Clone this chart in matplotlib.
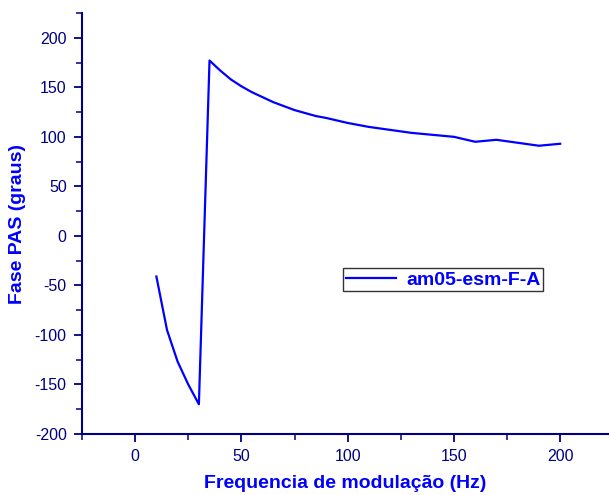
import matplotlib
matplotlib.use("Agg")
import matplotlib.pyplot as plt
from matplotlib.ticker import MultipleLocator

plt.rcParams['font.family'] = ['Liberation Sans', 'DejaVu Sans']
plt.rcParams['axes.unicode_minus'] = False

# Fase PAS em função da frequência de modulação
freq = [10, 15, 20, 25, 30, 35, 40, 45, 50, 55, 60, 65, 70, 75, 80, 85, 90,
        100, 110, 120, 130, 140, 150, 160, 170, 180, 190, 200]
fase = [-41, -95, -127, -150, -170, 177, 167, 158, 151, 145, 140, 135, 131, 127,
        124, 121, 119, 114, 110, 107, 104, 102, 100, 95, 97, 94, 91, 93]
nome = 'am05-esm-F-A'

navy = '#000080'
azul = '#0000ff'

fig = plt.figure(figsize=(6.09, 4.95), dpi=100)
ax = fig.add_axes([82 / 609, 1 - 434 / 495, (608 - 82) / 609, (434 - 13) / 495])

ax.plot(freq, fase, color=azul, lw=1.6, label=nome)

ax.set_xlim(-25, 222.5)
ax.set_ylim(-200, 225)
ax.xaxis.set_major_locator(MultipleLocator(50))
ax.xaxis.set_minor_locator(MultipleLocator(25))
ax.yaxis.set_major_locator(MultipleLocator(50))
ax.yaxis.set_minor_locator(MultipleLocator(25))

for s in ['top', 'right']:
    ax.spines[s].set_visible(False)
for s in ['left', 'bottom']:
    ax.spines[s].set_color(navy)
    ax.spines[s].set_linewidth(1.5)

ax.tick_params(which='major', direction='out', length=6, width=1.3, color=navy,
               labelcolor=navy, labelsize=11.5, pad=5)
ax.tick_params(which='minor', direction='out', length=4, width=1.1, color=navy)

ax.set_xlabel('Frequencia de modulação (Hz)', color=azul, fontsize=14,
              fontweight='bold', labelpad=8)
ax.set_ylabel('Fase PAS (graus)', color=azul, fontsize=14,
              fontweight='bold', labelpad=6)

leg = ax.legend(loc='upper left', bbox_to_anchor=((343 - 82) / 526, 1 - (268 - 13) / 421),
                frameon=True, fancybox=False, borderaxespad=0,
                prop={'weight': 'bold', 'size': 14}, handlelength=2.6,
                borderpad=0.15, handletextpad=0.5)
leg.get_frame().set_edgecolor('black')
leg.get_frame().set_linewidth(1.0)
for t in leg.get_texts():
    t.set_color(azul)

fig.savefig('out.png', dpi=100)
